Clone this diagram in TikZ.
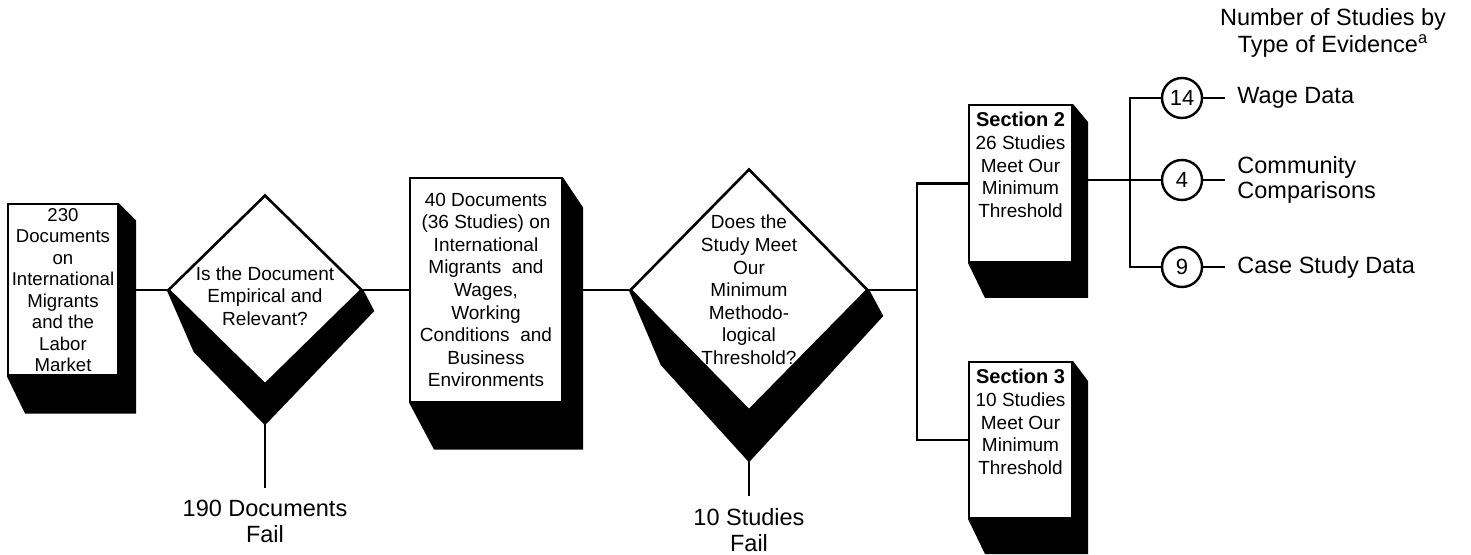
\documentclass[tikz,border=0pt]{standalone}
\usepackage{fontspec}
\setmainfont{Liberation Sans}
\usetikzlibrary{shapes.geometric}
\usetikzlibrary{positioning}
\usetikzlibrary{backgrounds}
\newcommand\secfont{\fontsize{10}{11.3}\selectfont\bfseries}
\tikzset{
  doc/.style={draw,line width=1pt,fill=white,inner sep=0},
  question/.style={draw,diamond,line width=1.3pt,fill=white,inner sep=0},
  doctext/.style={align=center,inner sep=0,font=\fontsize{9.5}{11.3}\selectfont},
  outtext/.style={align=center,inner sep=6pt,font=\fontsize{11.75}{12.8}\selectfont},
  tally/.style={draw,circle,line width=1.2pt,minimum size=20pt,inner sep=0,font=\fontsize{11}{13}\selectfont},
  link/.style={line width=1.4pt}
}

\begin{document}
\begin{tikzpicture}[x=0.5pt,y=-0.5pt]
  \useasboundingbox (0,0) rectangle (1471,555);

  \node[doc,minimum width=55pt,minimum height=85.5pt] (docs) at (63,290) {};
  \node[doctext,font=\fontsize{9.3}{10.75}\selectfont] (docslbl) at (docs) {230\\Documents\\on\\International\\Migrants\\and the\\Labor\\Market};
  \node[question,minimum width=97pt,minimum height=95pt] (q1) at (265,290) {};
  \node[doctext] (q1lbl) at ([yshift=-3pt]q1) {Is the Document\\Empirical and\\Relevant?};
  \node[doc,minimum width=76pt,minimum height=111.5pt] (pool) at (486,290) {};
  \node[doctext] (poollbl) at (pool) {40 Documents\\(36 Studies) on\\International\\Migrants \ and\\Wages,\\Working\\Conditions \ and\\Business\\Environments};
  \node[question,minimum width=119pt,minimum height=121pt] (q2) at (749,290) {};
  \node[doctext] (q2lbl) at (q2) {Does the\\Study Meet\\Our\\Minimum\\Methodo-\\logical\\Threshold?};
  \node[doc,minimum width=51.5pt,minimum height=78.5pt] (sec2) at (1020.5,183.5) {};
  \node[doctext,below=4pt of sec2.north] (sec2lbl) {{\secfont Section 2}\\26 Studies\\Meet Our\\Minimum\\Threshold};
  \node[doc,minimum width=51.5pt,minimum height=78pt] (sec3) at (1020.5,440) {};
  \node[doctext,below=4pt of sec3.north] (sec3lbl) {{\secfont Section 3}\\10 Studies\\Meet Our\\Minimum\\Threshold};

  \node[tally] (c14) at (1182,98) {14};
  \node[tally] (c4) at (1182,180) {4};
  \node[tally] (c9) at (1182,267) {9};
  \node[outtext,anchor=west] (wage) at (1225,98) {Wage Data};
  \node[outtext,anchor=west,align=left] (comm) at (1225,180) {Community\\Comparisons};
  \node[outtext,anchor=west] (case) at (1225,267) {Case Study Data};
  \node[outtext,font=\fontsize{11.75}{13.5}\selectfont] (head) at (1333,33) {Number of Studies by\\Type of Evidence\textsuperscript{a}};
  \node[outtext,anchor=north] (fail1) at (265,488) {190 Documents\\Fail};
  \node[outtext,anchor=north] (fail2) at (749,496) {10 Studies\\Fail};

  \coordinate (fork) at (917,290);
  \coordinate (split) at (1130,180);
  \draw[link] (docs) -- (q1);
  \draw[link] (q1) -- (pool);
  \draw[link] (pool) -- (q2);
  \draw[link] (q2) -- (fork);
  \draw[link] (sec2.west) -| (fork) |- (sec3.west);
  \draw[link] (sec2.east |- c4) -- (c4);
  \draw[link] (c14) -| (split) |- (c9);
  \draw[link] (c14) -- (wage);
  \draw[link] (c4) -- (comm);
  \draw[link] (c9) -- (case);
  \draw[link] (q1) -- (fail1);
  \draw[link] (q2) -- (fail2);

  \begin{scope}[on background layer]
    \fill (docs.north east) -- ++(17,17) -- ([shift={(17,37)}]docs.south east) -- ([shift={(18,37)}]docs.south west) -- (docs.south west) -- cycle;
    \fill (pool.north east) -- ++(20,30) -- ([shift={(20,47)}]pool.south east) -- ([shift={(25,47)}]pool.south west) -- (pool.south west) -- cycle;
    \fill (sec2.north east) -- ++(15,18) -- ([shift={(15,35)}]sec2.south east) -- ([shift={(17,35)}]sec2.south west) -- (sec2.south west) -- cycle;
    \fill (sec3.north east) -- ++(15,20) -- ([shift={(15,35)}]sec3.south east) -- ([shift={(17,35)}]sec3.south west) -- (sec3.south west) -- cycle;
    \fill (q1.west) -- ++(27,62) -- ([shift={(0,39)}]q1.south) -- ([shift={(11,21)}]q1.east) -- (q1.east) -- cycle;
    \fill (q2.west) -- ++(32,75) -- ([shift={(0,50)}]q2.south) -- ([shift={(14,26)}]q2.east) -- (q2.east) -- cycle;
  \end{scope}
\end{tikzpicture}
\end{document}
